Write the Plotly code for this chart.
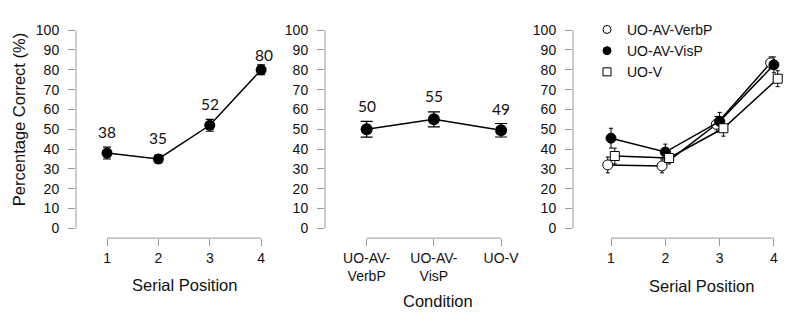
import plotly.graph_objects as go

# ---------------- data ----------------
serial_positions = [1, 2, 3, 4]
serial_tick_labels = ["1", "2", "3", "4"]

# Panel 1: overall serial position
overall_mean = [38, 35, 52, 80]
overall_err = [3, 2, 3, 2.5]
overall_labels = ["38", "35", "52", "80"]

# Panel 2: condition
conditions = [1, 2, 3]
condition_tick_labels = ["UO-AV-<br>VerbP", "UO-AV-<br>VisP", "UO-V"]
condition_mean = [50, 55, 49.5]
condition_err = [4, 3.8, 3.4]
condition_labels = ["50", "55", "49"]

# Panel 3: serial position by condition
series_names = ["UO-AV-VerbP", "UO-AV-VisP", "UO-V"]
verbp_mean = [32, 31.5, 52.5, 83.5]
verbp_err = [4, 3.5, 4, 3]
visp_mean = [45.5, 38.5, 54, 82.5]
visp_err = [5, 4, 4.5, 4]
uov_mean = [36.5, 35.5, 50.5, 75.5]
uov_err = [4, 3, 4, 4]

y_ticks = list(range(0, 101, 10))

# ---------------- layout helpers ----------------
W, H = 800, 321
AX_GRAY = "#9a9a9a"
TICK_FONT = dict(family="Liberation Sans, Arial, sans-serif", size=14, color="#111111")
TITLE_FONT = dict(family="Liberation Sans, Arial, sans-serif", size=16.5, color="#111111")
LABEL_FONT = dict(family="Lato, Noto Sans, sans-serif", size=15.5, color="#111111")


def px_x(p):
    return p / W


def px_y(p):
    return 1 - p / H


y_dom = [px_y(236), px_y(22.7)]
y_range = [-10 / 2.033, 100]

fig = go.Figure()

# Panel 1
fig.add_trace(go.Scatter(
    x=serial_positions, y=overall_mean, mode="lines+markers",
    marker=dict(color="black", size=11, symbol="circle"),
    line=dict(color="black", width=1.5),
    error_y=dict(type="data", array=overall_err, color="black", thickness=1.2, width=4),
    showlegend=False, cliponaxis=False, xaxis="x", yaxis="y"))

# Panel 2
fig.add_trace(go.Scatter(
    x=conditions, y=condition_mean, mode="lines+markers",
    marker=dict(color="black", size=12, symbol="circle"),
    line=dict(color="black", width=1.5),
    error_y=dict(type="data", array=condition_err, color="black", thickness=1.2, width=6),
    showlegend=False, cliponaxis=False, xaxis="x2", yaxis="y2"))

# Panel 3 (jittered x per series)
jitter = [-0.06, 0.0, 0.07]
series_vals = [verbp_mean, visp_mean, uov_mean]
series_errs = [verbp_err, visp_err, uov_err]
series_symbols = ["circle", "circle", "square"]
series_fill = ["white", "black", "white"]
series_sizes = [10, 10, 9]
for name, vals, errs, j, sym, fill, sz in zip(series_names, series_vals, series_errs,
                                              jitter, series_symbols, series_fill, series_sizes):
    fig.add_trace(go.Scatter(
        x=[p + j for p in serial_positions], y=vals, mode="lines+markers", name=name,
        marker=dict(color=fill, size=sz, symbol=sym, line=dict(color="black", width=1)),
        line=dict(color="black", width=1.5),
        error_y=dict(type="data", array=errs, color="black", thickness=1, width=2),
        showlegend=False, cliponaxis=False, xaxis="x3", yaxis="y3"))
    # legend-only entry (marker only)
    fig.add_trace(go.Scatter(
        x=[None], y=[None], mode="markers", name=name,
        marker=dict(color=fill, size=8, symbol=sym, line=dict(color="black", width=1)),
        showlegend=True, xaxis="x3", yaxis="y3"))

panels = [
    ("x", "y", [76, 275], 0.396, serial_positions, serial_tick_labels),
    ("x2", "y2", [325, 520], 0.38, conditions, condition_tick_labels),
    ("x3", "y3", [573, 795], 0.30, serial_positions, serial_tick_labels),
]
px_per_unit = [51.37, 67.2, 54.3]

layout = dict(
    width=W, height=H, margin=dict(l=0, r=0, t=0, b=0),
    paper_bgcolor="white", plot_bgcolor="white",
    showlegend=True,
    legend=dict(x=px_x(587), y=px_y(6), xanchor="left", yanchor="top",
                font=dict(family="Liberation Sans, Arial, sans-serif", size=14, color="#111111"),
                bgcolor="rgba(0,0,0,0)", itemwidth=30, tracegroupgap=0),
)

shapes = []
for i, (xa, ya, dom, x0, tv, tt) in enumerate(panels):
    xr = [x0, x0 + (dom[1] - dom[0]) / px_per_unit[i]]
    xkey = "xaxis" if xa == "x" else "xaxis" + xa[1:]
    ykey = "yaxis" if ya == "y" else "yaxis" + ya[1:]
    layout[xkey] = dict(domain=[px_x(dom[0]), px_x(dom[1])], range=xr, anchor=ya,
                        tickmode="array", tickvals=tv, ticktext=tt,
                        ticks="outside", ticklen=7, tickcolor=AX_GRAY, tickwidth=1,
                        ticklabelstandoff=0,
                        showline=False, showgrid=False, zeroline=False, tickfont=TICK_FONT)
    layout[ykey] = dict(domain=y_dom, range=y_range, anchor=xa,
                        tickmode="array", tickvals=y_ticks,
                        ticks="outside", ticklen=7, tickcolor=AX_GRAY, tickwidth=1,
                        ticklabelstandoff=6,
                        showline=False, showgrid=False, zeroline=False, tickfont=TICK_FONT)
    # axis lines (R-style, spanning first to last tick)
    shapes.append(dict(type="line", xref=f"{xa} domain", yref=ya, x0=0, x1=0,
                       y0=y_ticks[0], y1=y_ticks[-1], line=dict(color=AX_GRAY, width=1)))
    shapes.append(dict(type="line", xref=xa, yref=f"{ya} domain", x0=tv[0], x1=tv[-1],
                       y0=0, y1=0, line=dict(color=AX_GRAY, width=1)))
layout["shapes"] = shapes

annotations = []
# value labels
label_shift_1 = [21, 21, 21, 15]
label_xshift_1 = [0, 0, 0, 3]
for xv, yv, txt, s, xs in zip(serial_positions, overall_mean, overall_labels,
                              label_shift_1, label_xshift_1):
    annotations.append(dict(x=xv, y=yv, xref="x", yref="y", text=txt, showarrow=False,
                            yshift=s, xshift=xs, yanchor="middle", font=LABEL_FONT))
label_shift_2 = [23, 23, 21]
for xv, yv, txt, s in zip(conditions, condition_mean, condition_labels, label_shift_2):
    annotations.append(dict(x=xv, y=yv, xref="x2", yref="y2", text=txt, showarrow=False,
                            yshift=s, yanchor="middle", font=LABEL_FONT))
# axis titles
annotations += [
    dict(x=px_x(19), y=px_y(115), xref="paper", yref="paper", text="Percentage Correct (%)",
         textangle=-90, showarrow=False, xanchor="center", yanchor="middle", font=TITLE_FONT),
    dict(x=px_x(184), y=px_y(284), xref="paper", yref="paper", text="Serial Position",
         showarrow=False, xanchor="center", yanchor="middle", font=TITLE_FONT),
    dict(x=px_x(437.5), y=px_y(300), xref="paper", yref="paper", text="Condition",
         showarrow=False, xanchor="center", yanchor="middle", font=TITLE_FONT),
    dict(x=px_x(701.5), y=px_y(285), xref="paper", yref="paper", text="Serial Position",
         showarrow=False, xanchor="center", yanchor="middle", font=TITLE_FONT),
]
layout["annotations"] = annotations

fig.update_layout(**layout)
fig.write_html("out.html")
